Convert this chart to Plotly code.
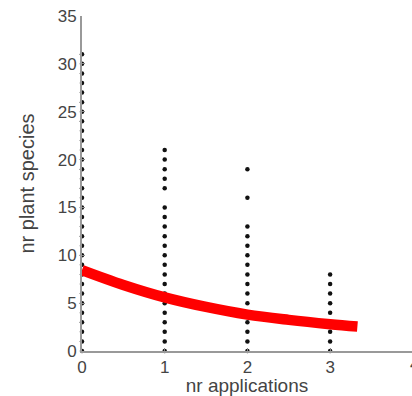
import plotly.graph_objects as go

# Observed plant-species counts per number of insecticide applications
species_0 = [0, 1, 2, 3, 4, 5, 6, 7, 8, 9, 10, 11, 12, 13, 14, 15, 16, 17, 18, 19, 20,
             21, 22, 23, 24, 25, 26, 27, 28, 29, 30, 31]
species_1 = [0, 1, 2, 3, 4, 5, 6, 7, 8, 9, 10, 11, 12, 13, 14, 15, 17, 18, 19, 20, 21]
species_2 = [0, 1, 2, 3, 4, 5, 6, 7, 8, 9, 10, 11, 12, 13, 16, 19]
species_3 = [0, 1, 2, 3, 4, 5, 6, 7, 8]
applications = [0, 1, 2, 3]

# Fitted trend
fit_x = [0, 0.5, 1, 1.5, 2, 2.5, 3, 3.33]
fit_y = [8.45, 6.9, 5.6, 4.6, 3.8, 3.25, 2.8, 2.55]

x_ticks = [0, 1, 2, 3, 4]
y_ticks = [0, 5, 10, 15, 20, 25, 30, 35]
x_max = 3.99

dots_x, dots_y = [], []
for a, vals in zip(applications, [species_0, species_1, species_2, species_3]):
    dots_x += [a] * len(vals)
    dots_y += vals

fig = go.Figure()
fig.add_trace(go.Scatter(x=dots_x, y=dots_y, mode="markers",
                         marker=dict(color="#111111", size=4.5),
                         cliponaxis=False, showlegend=False))
fig.add_trace(go.Scatter(x=fit_x, y=fit_y, mode="lines",
                         line=dict(color="#ff0000", width=10.5, shape="spline", smoothing=1),
                         cliponaxis=False, showlegend=False))

font_family = "Liberation Sans, Arial, sans-serif"
fig.update_layout(
    width=412, height=396,
    margin=dict(l=82, r=0, t=16, b=45),
    paper_bgcolor="white", plot_bgcolor="white",
    font=dict(family=font_family, color="#444444", size=17),
    annotations=[dict(text="<b>Insecticides</b>", xref="paper", yref="paper",
                      x=0.5, y=1.033, xanchor="center", yanchor="bottom",
                      showarrow=False, font=dict(size=22, color="#444444"))],
)
fig.update_xaxes(range=[0, x_max], tickvals=x_ticks, ticks="inside", ticklen=3,
                 tickcolor="#888888", showline=True, linecolor="#999999", linewidth=2,
                 showgrid=False, zeroline=False, automargin=False,
                 title=dict(text="nr applications", font=dict(size=19), standoff=5),
                 tickfont=dict(size=17))
fig.update_yaxes(range=[0, 35], tickvals=y_ticks, ticks="inside", ticklen=3,
                 tickcolor="#888888", showline=True, linecolor="#999999", linewidth=2,
                 showgrid=False, zeroline=False, automargin=False,
                 title=dict(text="nr plant species", font=dict(size=20), standoff=18),
                 tickfont=dict(size=17), ticklabelstandoff=0)

# partially visible tick label at the right edge
fig.add_annotation(text="4", x=1, y=0, xref="paper", yref="y", xanchor="left",
                   xshift=-4, yshift=-13, showarrow=False,
                   font=dict(size=17, color="#444444"))

fig.write_html("out.html", config={"displayModeBar": False},
               post_script="document.body.style.margin='0';document.body.style.overflow='hidden';")
